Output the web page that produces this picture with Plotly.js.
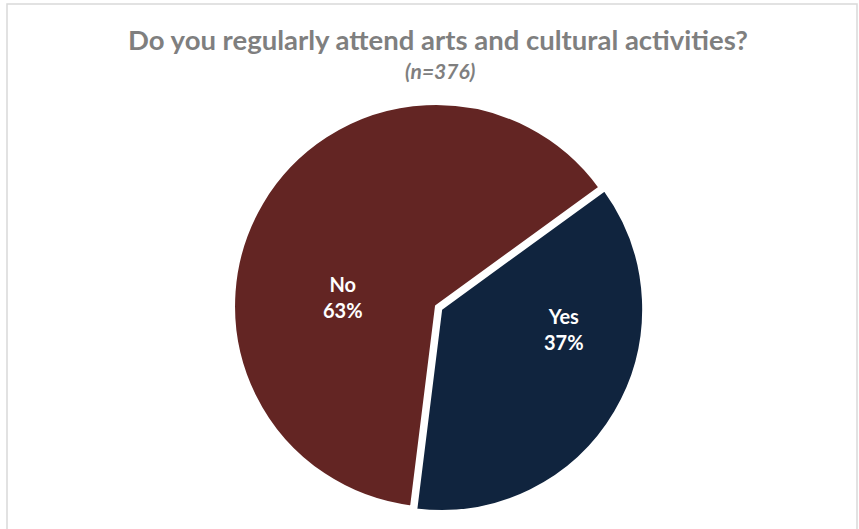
<!DOCTYPE html>
<html>
<head>
<meta charset="utf-8">
<script src="https://cdn.plot.ly/plotly-3.0.1.min.js"></script>
<style>html,body{margin:0;padding:0;background:#fff;}#chart{width:859px;height:529px;}</style>
</head>
<body>
<div id="chart"></div>
<script>
const categories = ["Yes", "No"];
const counts = [139, 237];
const sliceColors = ["#10243E", "#632523"];
const titleText = "Do you regularly attend arts and cultural activities?";
const subtitleText = "(n=376)";

const W = 859, H = 529;
const FONT = "Lato, 'Open Sans', sans-serif";
const total = counts.reduce((a, b) => a + b, 0);
const pctLabels = counts.map(v => Math.round(100 * v / total) + "%");

// label anchor positions (pixel layout, converted to paper fractions)
const labelPos = [[564, 329], [343, 297]];

const trace = {
  type: "pie",
  labels: categories,
  values: counts,
  sort: false,
  direction: "clockwise",
  rotation: 54,
  pull: [0.03, 0],
  marker: {colors: sliceColors, line: {color: "#ffffff", width: 2}},
  textinfo: "none",
  hoverinfo: "label+percent",
  domain: {x: [228 / W, 644 / W], y: [1 - 514 / H, 1 - 98 / H]},
  showlegend: false
};

const labelAnnotations = categories.map((c, i) => ({
  text: "<b>" + c + "<br>" + pctLabels[i] + "</b>",
  x: labelPos[i][0] / W, y: 1 - labelPos[i][1] / H,
  xref: "paper", yref: "paper", xanchor: "center", yanchor: "middle",
  showarrow: false, align: "center",
  font: {family: FONT, size: 20, color: "#ffffff"}
}));

const layout = {
  width: W, height: H,
  margin: {l: 0, r: 0, t: 0, b: 0},
  paper_bgcolor: "#ffffff",
  title: {
    text: "<b>" + titleText + "</b>",
    font: {family: FONT, size: 27.5, color: "#7f7f7f"},
    x: 438 / W, xanchor: "center",
    y: 1 - 40 / H, yanchor: "middle",
    xref: "paper", yref: "paper"
  },
  annotations: [{
    text: "<b><i>" + subtitleText + "</i></b>",
    x: 440 / W, y: 1 - 71 / H, xref: "paper", yref: "paper",
    xanchor: "center", yanchor: "middle", showarrow: false,
    font: {family: FONT, size: 21, color: "#7f7f7f"}
  }].concat(labelAnnotations),
  shapes: [{
    type: "rect", xref: "paper", yref: "paper",
    x0: 7 / W, x1: 857 / W, y0: -0.02, y1: 1 - 4 / H,
    line: {color: "#d9d9d9", width: 1.5}, fillcolor: "rgba(0,0,0,0)"
  }]
};

Plotly.newPlot("chart", [trace], layout, {displayModeBar: false, staticPlot: true});
</script>
</body>
</html>
